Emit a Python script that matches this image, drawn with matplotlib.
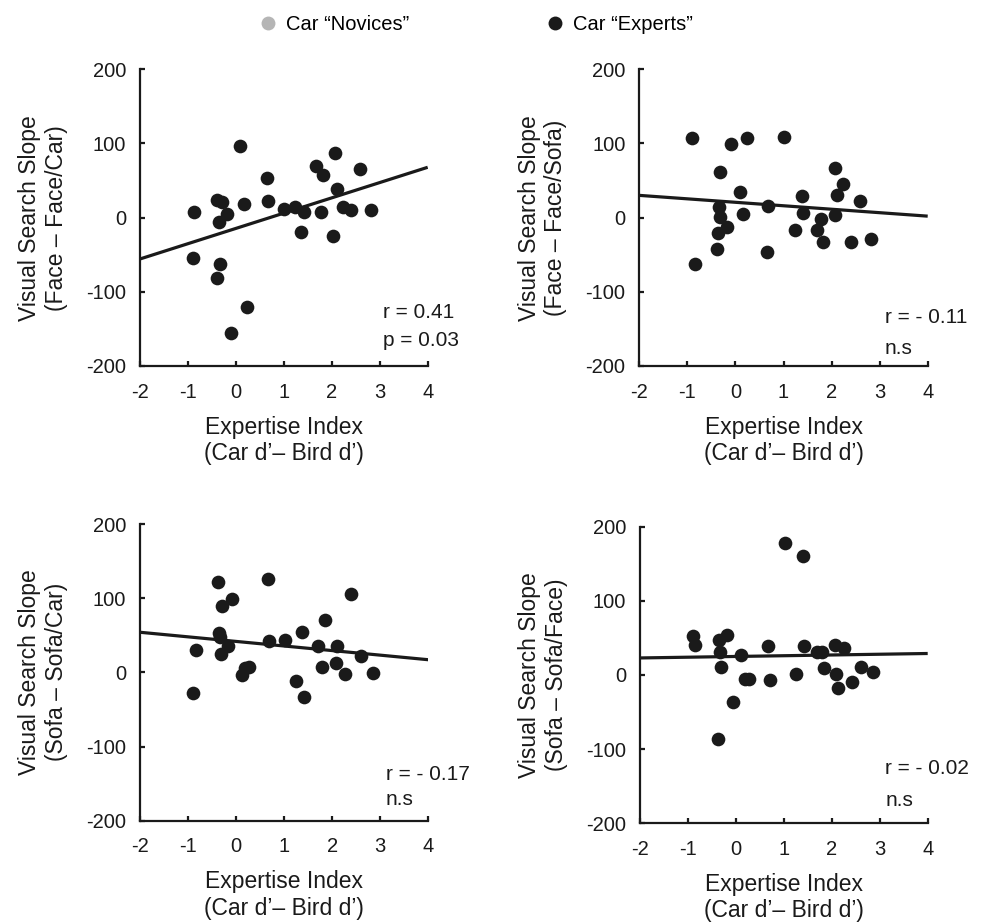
import matplotlib
matplotlib.use("Agg")
import matplotlib.pyplot as plt
import numpy as np
from matplotlib.lines import Line2D

plt.rcParams['font.family'] = ['Liberation Sans', 'DejaVu Sans']
plt.rcParams['axes.unicode_minus'] = False

# ---------------- data ----------------
p1_x = [-0.87, -0.90, -0.40, -0.30, -0.35, -0.18, -0.33, -0.39, -0.10, 0.24, 0.09, 0.16,
        0.64, 0.66, 1.00, 1.23, 1.41, 1.36, 1.67, 1.81, 1.77, 2.07, 2.10, 2.03, 2.24, 2.39,
        2.59, 2.82]
p1_y = [7, -55, 24, 21, -6, 5, -62, -82, -155, -120, 97, 19,
        53, 23, 12, 14, 8, -19, 70, 57, 7, 87, 38, -25, 14, 10,
        66, 10]

p2_x = [-0.90, -0.84, -0.32, -0.34, -0.32, -0.18, -0.36, -0.38, -0.10, 0.09, 0.16, 0.25,
        0.68, 0.65, 1.02, 1.24, 1.38, 1.41, 1.69, 1.77, 1.83, 2.07, 2.24, 2.11, 2.07, 2.40,
        2.59, 2.83]
p2_y = [107, -63, 61, 15, 1, -12, -21, -42, 99, 34, 5, 107,
        16, -46, 109, -16, 29, 6, -16, -2, -33, 67, 46, 31, 4, -33,
        23, -29]

p3_x = [-0.37, 0.66, -0.30, -0.08, -0.35, -0.33, -0.16, -0.31, -0.84, -0.89, 0.12, 0.18,
        0.27, 0.69, 1.02, 1.38, 1.25, 1.41, 1.70, 1.84, 1.79, 2.11, 2.08, 2.27, 2.40, 2.59,
        2.84]
p3_y = [122, 126, 89, 99, 53, 48, 36, 25, 30, -28, -4, 6,
        7, 42, 44, 55, -12, -33, 36, 71, 7, 36, 13, -2, 106, 22,
        -1]

p4_x = [-0.90, -0.85, -0.35, -0.18, -0.33, -0.32, -0.37, -0.07, 0.10, 0.19, 0.28, 0.66,
        0.71, 1.03, 1.39, 1.25, 1.42, 1.70, 1.79, 1.84, 2.07, 2.26, 2.08, 2.12, 2.42, 2.60,
        2.85]
p4_y = [53, 41, 47, 54, 31, 11, -86, -36, 27, -5, -5, 39,
        -7, 178, 161, 2, 39, 31, 31, 9, 40, 37, 2, -18, -9, 11,
        4]

fit_slopes = [20.6, -4.67, -6.17, 1.0]
fit_intercepts = [-14.5, 20.7, 41.7, 25.0]

stat_lines = [("r = 0.41", "p = 0.03"), ("r = - 0.11", "n.s"),
              ("r = - 0.17", "n.s"), ("r = - 0.02", "n.s")]
ylabels = ["Visual Search Slope\n(Face \u2013 Face/Car)",
           "Visual Search Slope\n(Face \u2013 Face/Sofa)",
           "Visual Search Slope\n(Sofa \u2013 Sofa/Car)",
           "Visual Search Slope\n(Sofa \u2013 Sofa/Face)"]
xlabel = "Expertise Index\n(Car d\u2019\u2013 Bird d\u2019)"
xticks = [-2, -1, 0, 1, 2, 3, 4]
yticks = [-200, -100, 0, 100, 200]
legend_labels = ["Car \u201cNovices\u201d", "Car \u201cExperts\u201d"]
legend_colors = ["#b5b5b5", "#1a1a1a"]

# ---------------- layout ----------------
W, H = 988, 923
fig = plt.figure(figsize=(W / 100, H / 100), dpi=100)

boxes = [  # left, bottom px, right, top px
    (140, 366, 427.7, 69.3),
    (639.3, 366, 927.7, 69.3),
    (140, 820.7, 428.3, 524),
    (640, 823.3, 927.7, 526.7),
]
stat_pos = [(0.845, 0.18, 0.085), (0.852, 0.162, 0.06),
            (0.852, 0.155, 0.07), (0.852, 0.186, 0.078)]

xs = [p1_x, p2_x, p3_x, p4_x]
ys = [p1_y, p2_y, p3_y, p4_y]

dark = "#1a1a1a"
for i in range(4):
    l, b, r, t = boxes[i]
    ax = fig.add_axes([l / W, 1 - b / H, (r - l) / W, (b - t) / H])
    ax.scatter(xs[i], ys[i], s=97, color=dark, zorder=3, clip_on=False, linewidths=0)
    xl = np.array([-2.0, 4.0])
    ax.plot(xl, fit_slopes[i] * xl + fit_intercepts[i], color=dark, lw=2.3, zorder=2,
            solid_capstyle='butt')
    ax.set_xlim(-2, 4)
    ax.set_ylim(-200, 200)
    ax.set_xticks(xticks)
    ax.set_yticks(yticks)
    ax.set_xticklabels([str(v) for v in xticks])
    ax.set_yticklabels([str(v) for v in yticks])
    for s in ['top', 'right']:
        ax.spines[s].set_visible(False)
    for s in ['left', 'bottom']:
        ax.spines[s].set_linewidth(1.6)
        ax.spines[s].set_color(dark)
    ax.tick_params(direction='in', length=3.5, width=1.6, color=dark,
                   labelsize=14.5, labelcolor=dark)
    ax.tick_params(axis='x', pad=12)
    ax.tick_params(axis='y', pad=10)
    ax.set_ylabel(ylabels[i], fontsize=16.5, labelpad=13, linespacing=1.2, color=dark)
    ax.set_xlabel(xlabel, fontsize=16.5, labelpad=10, linespacing=1.2, color=dark)
    sx, sy1, sy2 = stat_pos[i]
    ax.text(sx, sy1, stat_lines[i][0], transform=ax.transAxes, fontsize=15,
            ha='left', va='center', color=dark)
    ax.text(sx, sy2, stat_lines[i][1], transform=ax.transAxes, fontsize=15,
            ha='left', va='center', color=dark)

# legend (two single-entry legends)
leg_pos = [(262 / W, 1 - 25 / H), (549 / W, 1 - 25 / H)]
for lab, col, pos in zip(legend_labels, legend_colors, leg_pos):
    h = Line2D([], [], marker='o', linestyle='none', markersize=10, color=col,
               markeredgewidth=0)
    fig.legend([h], [lab], loc='center left', bbox_to_anchor=pos, frameon=False,
               fontsize=14.5, handlelength=0.6, handletextpad=0.6, borderpad=0,
               borderaxespad=0)

fig.savefig("out.png", dpi=100)
